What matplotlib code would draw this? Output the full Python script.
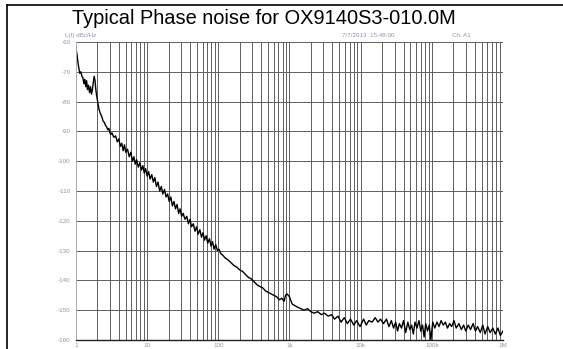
import matplotlib
matplotlib.use('Agg')
import matplotlib.pyplot as plt
from matplotlib.lines import Line2D
from matplotlib.ticker import FixedLocator, NullFormatter

# phase noise (Hz, dBc/Hz)
freq = [1.00, 1.03, 1.06, 1.10, 1.13, 1.17, 1.21, 1.25, 1.29, 1.33, 1.37, 1.41, 1.45, 1.50,
        1.55, 1.60, 1.65, 1.70, 1.75, 1.80, 1.85, 1.90, 1.95, 2.00, 2.05, 2.10, 2.2, 2.3, 2.4,
        2.5, 2.6, 2.7, 2.8, 2.9, 3.0, 3.1, 3.2, 3.4, 3.6, 3.8, 4.0, 4.2, 4.4, 4.6, 4.8, 5.0,
        5.3, 5.6, 5.9, 6.2, 6.5, 6.8, 7.1, 7.5, 7.9, 8.3, 8.7, 9.1, 9.5, 10, 10.5, 11, 11.6,
        12.2, 12.8, 13.5, 14.2, 15, 15.8, 16.6, 17.5, 18.4, 19.4, 20.4, 21.5, 22.6, 23.8, 25,
        26.3, 27.7, 29, 30.5, 32, 34, 36, 38, 40, 42, 44.5, 47, 49.5, 52, 55, 58, 61, 64, 67.5,
        71, 75, 79, 83, 87, 92, 97, 102, 108, 115, 125, 135, 150, 165, 180, 200, 220, 240, 265,
        290, 320, 350, 380, 420, 460, 500, 550, 600, 660, 720, 780, 840, 880, 920, 960, 1000,
        1050, 1100, 1200, 1300, 1450, 1600, 1800, 2000, 2200, 2500, 2800, 3100, 3500, 3900,
        4300, 4800, 5300, 5900, 6500, 7200, 8000, 8800, 9800,
        11000, 12000, 13000, 14500, 16000, 17500, 19000, 21000, 23000, 25000, 27000, 29000,
        31000, 33000, 35000, 37500, 40000, 43000, 46000, 49000, 52000, 55000, 58000, 62000,
        66000, 70000, 74000, 78000, 82000, 87000, 92000, 97000, 103000, 110000, 118000,
        126000, 135000, 145000, 155000, 166000, 178000, 190000, 205000, 220000, 240000,
        260000, 280000, 300000, 325000, 350000, 380000, 410000, 440000, 480000, 520000,
        560000, 610000, 660000, 720000, 780000, 850000, 920000, 1000000]
noise = [-62.5, -64, -66.5, -69, -70.5, -70, -71.5, -72, -74, -72.5, -75, -73, -76, -74.5,
         -77, -75, -77.5, -76, -73.5, -71.5, -73, -76, -78, -79.5, -81, -82.5, -84, -85, -86.5,
         -87, -88, -88.5, -89.5, -89, -90.5, -91, -90.5, -92, -91.5, -93.5, -92.5, -95, -94,
         -96.5, -94.5, -97, -96, -98.5, -97, -100, -98.5, -101, -99.5, -102, -100.5, -103,
         -101.5, -104, -102.5, -105, -103.5, -106, -104.5, -107, -105.5, -108.5, -107, -110,
         -108.5, -111, -109.5, -112, -111, -113.5, -112, -115, -113.5, -116, -114.5, -117.5,
         -116, -118.5, -117.5, -119.5, -118.5, -121, -119.5, -122, -121, -123.5, -122, -124.5,
         -123, -125.5, -124, -126.5, -125, -127.5, -126, -128.5, -127, -129.5, -128, -130,
         -129.5, -131, -131.5, -132.5, -133, -134, -135, -135.5, -136.5, -137, -138, -139,
         -139.5, -140.5, -141.5, -142, -142.5, -143.5, -144, -144.5, -145, -145.5, -146.5,
         -146, -147, -145, -144.5, -145, -145.5, -147, -148, -148.5, -149, -149.5, -150,
         -149.5, -150.5, -151, -150.5, -151.5, -151, -152, -151.5, -153, -152, -154, -152.5,
         -154.5, -153, -155, -153.5, -155.5,
         -153, -155, -153.5, -154, -152.5, -154, -153, -154.5, -153, -155.5, -153.5, -156,
         -154, -157, -154.5, -156, -153.5, -157.5, -154, -156.5, -155, -158, -154, -156,
         -153.5, -157, -155, -159, -154.5, -157, -155, -160, -154, -156, -154,
         -155.5, -153.5, -155, -154, -156, -154.5, -155.5, -153.5, -156, -154.5,
         -156.5, -155, -157, -155, -156.5, -154.5, -157, -155.5, -157.5, -155,
         -158, -155.5, -157.5, -156, -158, -156, -158.5, -157]

xticks = [1, 10, 100, 1e3, 1e4, 1e5, 1e6]
xlabels = ['1', '10', '100', '1k', '10k', '100k', '1M']
yticks = [-60, -70, -80, -90, -100, -110, -120, -130, -140, -150, -160]

plt.rcParams['font.family'] = ['Liberation Sans', 'DejaVu Sans']

fig = plt.figure(figsize=(5.63, 3.49), dpi=100)
ax = fig.add_axes([0.135, 0.0258, 0.7584, 0.8539])

ax.plot(freq, noise, color='black', lw=1.0)

ax.set_xscale('log')
ax.set_xlim(1, 1e6)
ax.set_ylim(-160, -60)

minors = [m * 10 ** d for d in range(6) for m in range(2, 10)]
ax.xaxis.set_major_locator(FixedLocator(xticks))
ax.xaxis.set_minor_locator(FixedLocator(minors))
ax.xaxis.set_minor_formatter(NullFormatter())
ax.set_xticks(xticks)
ax.set_xticklabels(xlabels)
ax.set_yticks(yticks)
ax.set_yticklabels([str(v) for v in yticks])

ax.grid(True, which='both', axis='x', color='#5e5e5e', lw=0.7)
ax.grid(True, which='major', axis='y', color='#5e5e5e', lw=0.7)
ax.tick_params(which='both', length=0, labelsize=4.5, labelcolor='#8a96aa', pad=4)
ax.tick_params(axis='x', pad=2)

for s in ['top', 'right']:
    ax.spines[s].set_visible(False)
ax.spines['left'].set_color('#bbbbbb')
ax.spines['left'].set_linewidth(0.6)
ax.spines['bottom'].set_color('#222222')
ax.spines['bottom'].set_linewidth(1.0)

# small header texts from the analyser screen
fig.text(0.115, 0.893, 'L(f) dBc/Hz', fontsize=4.5, color='#8a96aa')
fig.text(0.607, 0.893, '7/7/2013  15:48:00', fontsize=4.5, color='#8a96aa')
fig.text(0.802, 0.893, 'Ch: A1', fontsize=4.5, color='#8a96aa')

fig.text(0.128, 0.947, 'Typical Phase noise for OX9140S3-010.0M', fontsize=14.4,
         color='black', va='center')

# page frame (left and top edge)
fig.add_artist(Line2D([0.0125, 0.0125], [0, 0.987], color='black', lw=1.2))
fig.add_artist(Line2D([0.0125, 1.0], [0.987, 0.987], color='black', lw=1.2))

fig.savefig('out.png', dpi=100)
